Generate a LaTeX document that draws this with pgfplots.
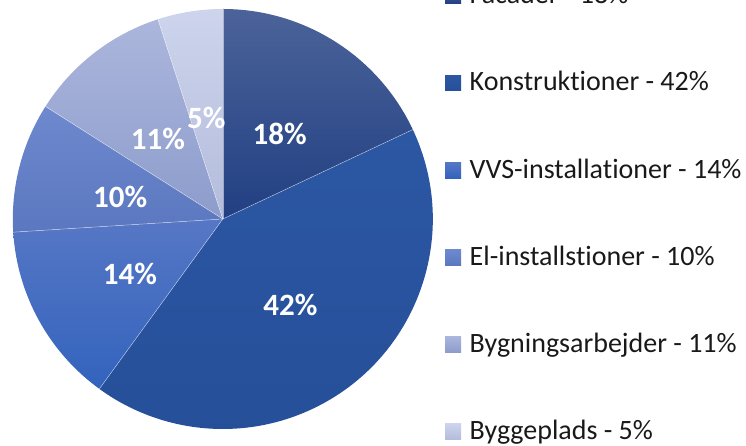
\documentclass[border=0pt]{standalone}
\usepackage{pgfplots}
\usepackage{pgfplotstable}
\pgfplotsset{compat=1.18}
\usepackage{fontspec}
\setmainfont{Carlito}[RawFeature={-liga}]

\definecolor{top0}{HTML}{4B6399}\definecolor{bot0}{HTML}{213F82}
\definecolor{top1}{HTML}{2C57A3}\definecolor{bot1}{HTML}{264F99}
\definecolor{top2}{HTML}{5677C5}\definecolor{bot2}{HTML}{3363BD}
\definecolor{top3}{HTML}{6E89CE}\definecolor{bot3}{HTML}{5B77BF}
\definecolor{top4}{HTML}{ABB6DC}\definecolor{bot4}{HTML}{8D9CCC}
\definecolor{top5}{HTML}{CDD4EC}\definecolor{bot5}{HTML}{B3BCDC}

\pgfplotstableread{
label pct
Facader 18
Konstruktioner 42
VVS-installationer 14
El-installstioner 10
Bygningsarbejder 11
Byggeplads 5
}\piedata

\newcommand\SA[1]{\csname sa#1\endcsname}
\newcommand\EA[1]{\csname ea#1\endcsname}
\newcommand\MA[1]{\csname ma#1\endcsname}
\newcommand\PV[1]{\csname pv#1\endcsname}
\newcommand\LB[1]{\csname lb#1\endcsname}
\newcommand\LY[1]{\csname ly#1\endcsname}

\def\cumul{0}%
\pgfplotsforeachungrouped \i in {0,...,5}{%
  \pgfplotstablegetelem{\i}{pct}\of\piedata
  \let\pv\pgfplotsretval
  \pgfplotstablegetelem{\i}{label}\of\piedata
  \let\lb\pgfplotsretval
  \pgfmathsetmacro\sa{90-3.6*\cumul}%
  \pgfmathsetmacro\cumul{\cumul+\pv}%
  \pgfmathsetmacro\ea{90-3.6*\cumul}%
  \pgfmathsetmacro\ma{(\sa+\ea)/2}%
  \pgfmathsetmacro\ly{446-(3.9+87.1*\i)}%
  \expandafter\xdef\csname sa\i\endcsname{\sa}%
  \expandafter\xdef\csname ea\i\endcsname{\ea}%
  \expandafter\xdef\csname ma\i\endcsname{\ma}%
  \expandafter\xdef\csname pv\i\endcsname{\pv}%
  \expandafter\xdef\csname lb\i\endcsname{\lb}%
  \expandafter\xdef\csname ly\i\endcsname{\ly}%
}%

\begin{document}%
\begin{tikzpicture}
\begin{axis}[at={(0pt,0pt)}, anchor=origin, x=1pt, y=1pt,
  xmin=0, xmax=746, ymin=0, ymax=446, hide axis, clip=false]
\pgfplotsinvokeforeach{0,...,5}{
  \shade[top color=top#1, bottom color=bot#1]
    (axis cs:222.8,227) -- ++(\SA{#1}:210pt)
    arc[start angle=\SA{#1}, end angle=\EA{#1}, radius=210pt] -- cycle;
}
\pgfplotsinvokeforeach{0,...,5}{
  \draw[white, opacity=0.55, line width=0.5pt]
    (axis cs:222.8,227) -- ++(\SA{#1}:210pt);
}
\pgfplotsinvokeforeach{0,...,5}{
  \path (axis cs:222.8,227) ++(\MA{#1}:106pt) ++(0,-4pt)
    node[white, font=\bfseries\fontsize{31}{31}\selectfont, inner sep=0pt] {\PV{#1}\%};
  \shade[top color=top#1, bottom color=bot#1]
    (axis cs:445,\LY{#1}) rectangle ++(16pt,15.7pt);
  \node[anchor=base west, inner sep=0pt, font=\fontsize{28}{28}\selectfont, text=black!90]
    at (axis cs:469.5,\LY{#1}) {\LB{#1} - \PV{#1}\%};
}
\end{axis}
\pgfresetboundingbox
\useasboundingbox (0pt,0pt) rectangle (746pt,446pt);
\end{tikzpicture}%
\end{document}
